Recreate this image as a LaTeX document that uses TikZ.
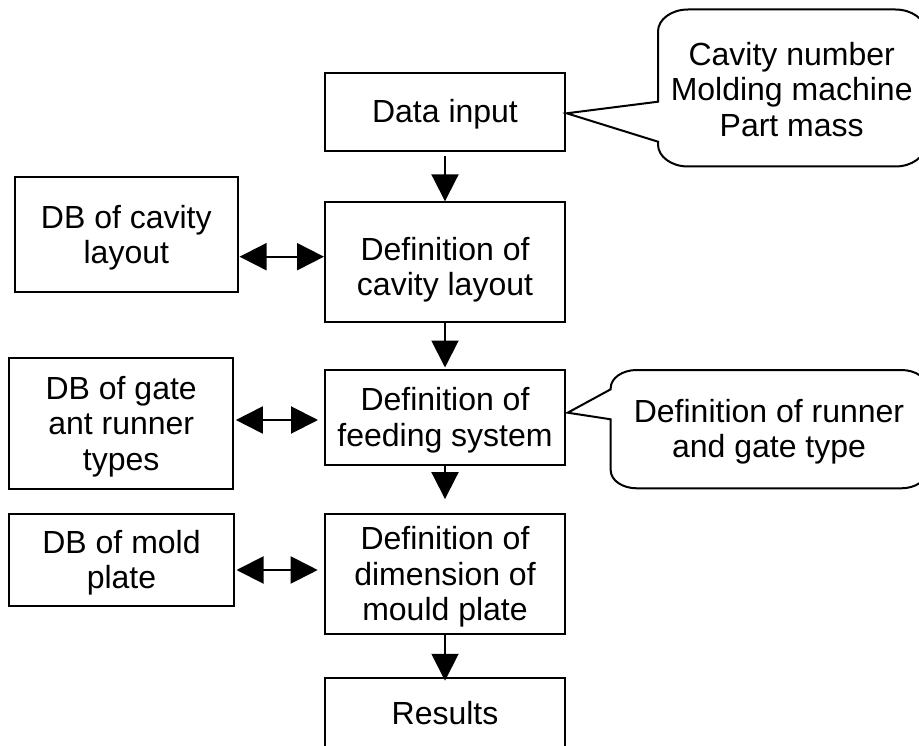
\documentclass[tikz,border=0pt]{standalone}
\usepackage{fontspec}
\setmainfont{Liberation Sans}
\usetikzlibrary{arrows.meta}
% struts that give every text block the same line box
\newcommand\topstrut{\rule{0pt}{29pt}}
\newcommand\lowtopstrut{\rule{0pt}{39pt}}
\newcommand\botstrut{\rule[-7pt]{0pt}{7pt}}
\begin{document}
\begin{tikzpicture}[x=1pt,y=-1pt,
  txt/.style={font=\fontsize{32pt}{35.5pt}\selectfont, align=center},
  box/.style={txt, draw, line width=2pt, rectangle, inner sep=0pt},
  arr/.style={line width=2pt, -{Triangle[length=27pt,width=27pt]}},
  dblarr/.style={line width=2pt, {Triangle[length=27pt,width=27pt]}-{Triangle[length=27pt,width=27pt]}},
  callout/.style={line width=2pt, draw, fill=white}]

\useasboundingbox (0,0) rectangle (919,746);
\fill[white] (0,0) rectangle (919,746);
\clip (0,0) rectangle (919,746);

% main column
\node[box, minimum width=240pt, minimum height=78.3pt]  (datain)  at (445,111.8) {\topstrut Data input\botstrut};
\node[box, minimum width=240pt, minimum height=119.4pt] (defcav)  at (445,262)   {\lowtopstrut Definition of\\cavity layout\botstrut};
\node[box, minimum width=240pt, minimum height=95pt]    (feed)    at (445,417.5) {\topstrut Definition of\\feeding system\botstrut};
\node[box, minimum width=240.6pt, minimum height=120.3pt] (mould) at (445,574.2) {\topstrut Definition of\\dimension of\\mould plate\botstrut};
\node[box, minimum width=240pt, minimum height=69.7pt]  (results) at (445,713.2) {\topstrut Results\botstrut};

% databases
\node[box, minimum width=222.5pt, minimum height=114.8pt] (dbcav)  at (126.3,234.9) {\topstrut DB of cavity\\layout\botstrut};
\node[box, minimum width=224.3pt, minimum height=131.6pt] (dbgate) at (121.2,423.5) {\topstrut DB of gate\\ant runner\\types\botstrut};
\node[box, minimum width=225pt,   minimum height=92pt]    (dbmold) at (121.5,560)   {\topstrut DB of mold\\plate\botstrut};

% flow arrows
\draw[arr, shorten <=4pt]    (datain.south) -- (datain.south |- defcav.north);
\draw[arr, shorten >=1.5pt]  (defcav.south) -- (defcav.south |- feed.north);
\draw[arr, shorten >=14pt]   (feed.south)   -- (feed.south |- mould.north);
\draw[arr, shorten >=-3.4pt] (mould.south)  -- (mould.south |- results.north);

% database links
\coordinate (h1) at (0,256.7);
\coordinate (h2) at (0,420);
\coordinate (h3) at (0,570);
\draw[dblarr, shorten <=1pt]  (dbcav.east |- h1)  -- (defcav.west |- h1);
\draw[dblarr, shorten <=1.5pt, shorten >=6pt] (dbgate.east |- h2) -- (feed.west |- h2);
\draw[dblarr, shorten <=1.5pt, shorten >=6pt] (dbmold.east |- h3) -- (mould.west |- h3);

% callout on the input box
\path[callout] (566.7,113.3) -- (658,141.7) -- (658,144.5)
  .. controls (658,156.65) and (671.43,166.5) .. (688,166.5) -- (895.4,166.5)
  .. controls (911.97,166.5) and (925.4,156.65) .. (925.4,144.5) -- (925.4,31.5)
  .. controls (925.4,19.35) and (911.97,9.5) .. (895.4,9.5) -- (688,9.5)
  .. controls (671.43,9.5) and (658,19.35) .. (658,31.5) -- (658,101.7) -- cycle;
\node[txt, inner sep=0pt] (c1text) at (791.7,89.9) {\topstrut Cavity number\\Molding machine\\Part mass\botstrut};

% callout on the feeding system box
\path[callout] (567.7,412.7) -- (610.7,419.3) -- (610.7,470.3)
  .. controls (610.7,480.2) and (622.3,488.3) .. (636.7,488.3) -- (901.3,488.3)
  .. controls (915.7,488.3) and (927.3,480.2) .. (927.3,470.3) -- (927.3,388)
  .. controls (927.3,378.1) and (915.7,370) .. (901.3,370) -- (636.7,370)
  .. controls (622.3,370) and (610.7,378.1) .. (610.7,388) -- (610.7,389.3) -- cycle;
\node[txt, inner sep=0pt] (c2text) at (769,429) {\topstrut Definition of runner\\and gate type\botstrut};
\end{tikzpicture}
\end{document}
